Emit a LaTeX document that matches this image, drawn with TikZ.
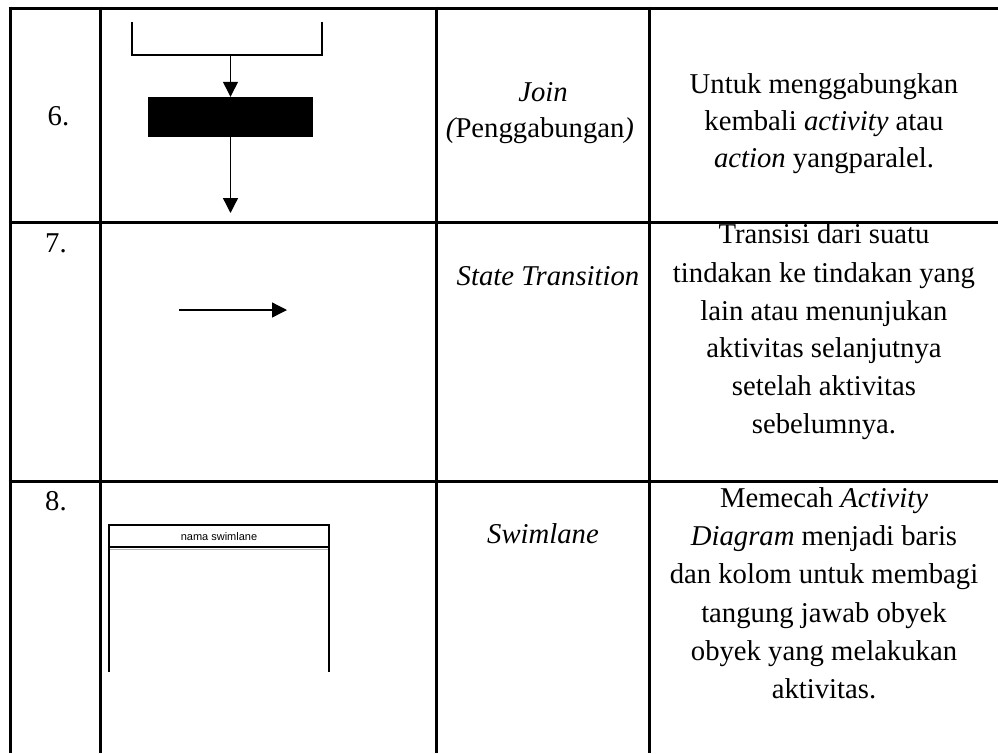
\documentclass[tikz,border=0pt]{standalone}
\usepackage{fontspec}
\setmainfont{Liberation Serif}
\newfontfamily\swfont{Liberation Sans}
\usetikzlibrary{arrows.meta}
\begin{document}
\begin{tikzpicture}[x=1pt,y=-1pt,
  gridline/.style={line width=3pt},
  symline/.style={line width=1.3pt},
  tri/.style={-{Triangle[length=15pt,width=15pt]}},
  txt/.style={anchor=base, inner sep=0pt, font=\fontsize{28.7}{38}\selectfont},
  num/.style={anchor=base west, inner sep=0pt, font=\fontsize{28.7}{38}\selectfont}
]
\useasboundingbox (0,0) rectangle (998,753);
% table grid
\draw[gridline] (8.5,8) -- (998,8);
\draw[gridline] (8.5,222) -- (998,222);
\draw[gridline] (8.5,481) -- (998,481);
\foreach \x in {10,100,436,649} \draw[gridline] (\x,6.5) -- (\x,753);

% numbers
\node[num] (n6) at (47.5,125) {6.};
\node[num] (n7) at (45,252) {7.};
\node[num] (n8) at (45,510) {8.};

% row 6 symbol: join
\draw[symline] (132,22) -- (132,55) -- (322,55) -- (322,22);
\coordinate (jtop) at (230.5,55);
\node[fill=black, inner sep=0pt, minimum width=165pt, minimum height=40pt] (bar) at (230.5,117) {};
\coordinate (jout) at (230.5,213);
\draw[symline, tri] (jtop) -- (bar.north);
\draw[symline, tri] (bar.south) -- (jout);

% row 7 symbol: transition
\coordinate (ts) at (179,310);
\coordinate (te) at (287,310);
\draw[symline, tri] (ts) -- (te);

% row 8 symbol: swimlane
\draw[line width=1.5pt] (109,672) -- (109,525) -- (329,525) -- (329,672);
\draw[line width=1.5pt] (109,547) -- (329,547);
\draw[gray!60, line width=0.8pt] (110,549) -- (328,549);
\node[inner sep=0pt, font=\swfont\fontsize{11}{13}\selectfont] (swname) at (219,536.5) {nama swimlane};

% names
\node[txt] (j1) at (543,101) {\itshape Join};
\node[txt] (j2) at (540,137.5) {\itshape(\upshape Penggabungan\itshape)};
\node[txt] (st) at (548,285) {\itshape State Transition};
\node[txt] (sw) at (543,543) {\itshape Swimlane};

% descriptions
\node[txt] (d6a) at (824,93) {Untuk menggabungkan};
\node[txt] (d6b) at (824,130) {kembali \textit{activity} atau};
\node[txt] (d6c) at (824,167) {\textit{action} yangparalel.};

\node[txt] (d7a) at (824,243) {Transisi dari suatu};
\node[txt] (d7b) at (824,282) {tindakan ke tindakan yang};
\node[txt] (d7c) at (824,320) {lain atau menunjukan};
\node[txt] (d7d) at (824,357) {aktivitas selanjutnya};
\node[txt] (d7e) at (824,395) {setelah aktivitas};
\node[txt] (d7f) at (824,433) {sebelumnya.};

\node[txt] (d8a) at (824,507) {Memecah \textit{Activity}};
\node[txt] (d8b) at (824,545) {\textit{Diagram} menjadi baris};
\node[txt] (d8c) at (824,583) {dan kolom untuk membagi};
\node[txt] (d8d) at (824,622) {tangung jawab obyek};
\node[txt] (d8e) at (824,660) {obyek yang melakukan};
\node[txt] (d8f) at (824,698) {aktivitas.};
\end{tikzpicture}
\end{document}
